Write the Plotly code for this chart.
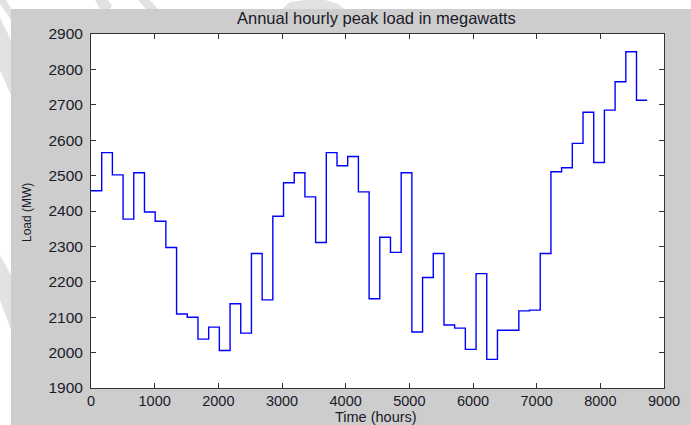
import plotly.graph_objects as go

# Weekly peak load (MW), 52 weeks of 168 hours
week_hours = 168
weekly_peak_mw = [
    2457, 2565, 2502, 2377, 2508, 2397, 2371, 2297, 2109, 2100,
    2038, 2072, 2006, 2138, 2055, 2280, 2149, 2385, 2480, 2508,
    2440, 2311, 2565, 2528, 2554, 2454, 2152, 2326, 2283, 2508,
    2058, 2212, 2280, 2078, 2069, 2009, 2223, 1981, 2063, 2063,
    2118, 2120, 2280, 2511, 2522, 2591, 2679, 2537, 2685, 2765,
    2850, 2713,
]
x_ticks = [0, 1000, 2000, 3000, 4000, 5000, 6000, 7000, 8000, 9000]
y_ticks = [1900, 2000, 2100, 2200, 2300, 2400, 2500, 2600, 2700, 2800, 2900]

x = [i * week_hours for i in range(len(weekly_peak_mw) + 1)]
y = weekly_peak_mw + [weekly_peak_mw[-1]]

W, H = 691, 425
L, R, T, B = 91, 664, 34, 388


def px(xp):
    return (xp - L) / (R - L)


def py(yp):
    return (B - yp) / (B - T)


def path(pts):
    return "M " + " L ".join(f"{px(a):.5f},{py(b):.5f}" for a, b in pts) + " Z"


fig = go.Figure()
fig.add_trace(go.Scatter(
    x=x, y=y, mode="lines", line=dict(color="#0000ff", width=1.4, shape="hv"),
    hoverinfo="skip", showlegend=False,
))

FONT = "Liberation Sans, Arial, sans-serif"
TXT = "#1a1a2a"
GREY = "#cdcdcd"

shapes = [
    # white outer margin (left and top)
    dict(type="rect", xref="paper", yref="paper", x0=px(-2), x1=px(11), y0=py(427), y1=py(-2),
         fillcolor="white", line=dict(width=0), layer="above"),
    dict(type="rect", xref="paper", yref="paper", x0=px(-2), x1=px(693), y0=py(9), y1=py(-2),
         fillcolor="white", line=dict(width=0), layer="above"),
]
wm = "#e2e2e2"
for pts in [
    [(0, 0), (6, 0), (11, 8), (11, 20), (0, 4)],
    [(0, 18), (11, 40), (11, 95), (0, 70)],
    [(0, 255), (11, 275), (11, 330), (0, 300)],
    [(138, 0), (150, 0), (158, 9), (146, 9)],
    [(282, 9), (290, 2), (305, 0), (325, 0), (338, 4), (344, 9)],
    [(95, 0), (108, 0), (112, 6), (110, 9), (100, 9)],
]:
    shapes.append(dict(type="path", xref="paper", yref="paper", path=path(pts),
                       fillcolor=wm, line=dict(width=0), layer="above"))

axis_common = dict(
    showline=True, linecolor="#333333", linewidth=1, mirror="ticks",
    ticks="inside", ticklen=5, tickcolor="#333333", tickwidth=1,
    showgrid=False, zeroline=False,
)

fig.update_layout(
    width=W, height=H,
    margin=dict(l=L, r=W - R, t=T, b=H - B),
    paper_bgcolor=GREY, plot_bgcolor="white",
    xaxis=dict(range=[0, 9000], tickvals=x_ticks, ticktext=[str(v) for v in x_ticks],
               ticklabelstandoff=0, tickfont=dict(family=FONT, size=14.5, color=TXT),
               **axis_common),
    yaxis=dict(range=[1900, 2900], tickvals=y_ticks, ticktext=[str(v) for v in y_ticks],
               ticklabelstandoff=4, tickfont=dict(family=FONT, size=15.5, color=TXT),
               **axis_common),
    shapes=shapes,
    annotations=[
        dict(text="Annual hourly peak load in megawatts", xref="paper", yref="paper",
             x=px(376), y=py(18), xanchor="center", yanchor="middle", showarrow=False,
             font=dict(family=FONT, size=16.5, color=TXT)),
        dict(text="Time (hours)", xref="paper", yref="paper",
             x=px(376), y=py(417), xanchor="center", yanchor="middle", showarrow=False,
             font=dict(family=FONT, size=14.5, color=TXT)),
        dict(text="Load (MW)", xref="paper", yref="paper", textangle=-90,
             x=px(27), y=py(213), xanchor="center", yanchor="middle", showarrow=False,
             font=dict(family=FONT, size=12, color=TXT)),
    ],
)

fig.write_html("out.html")
